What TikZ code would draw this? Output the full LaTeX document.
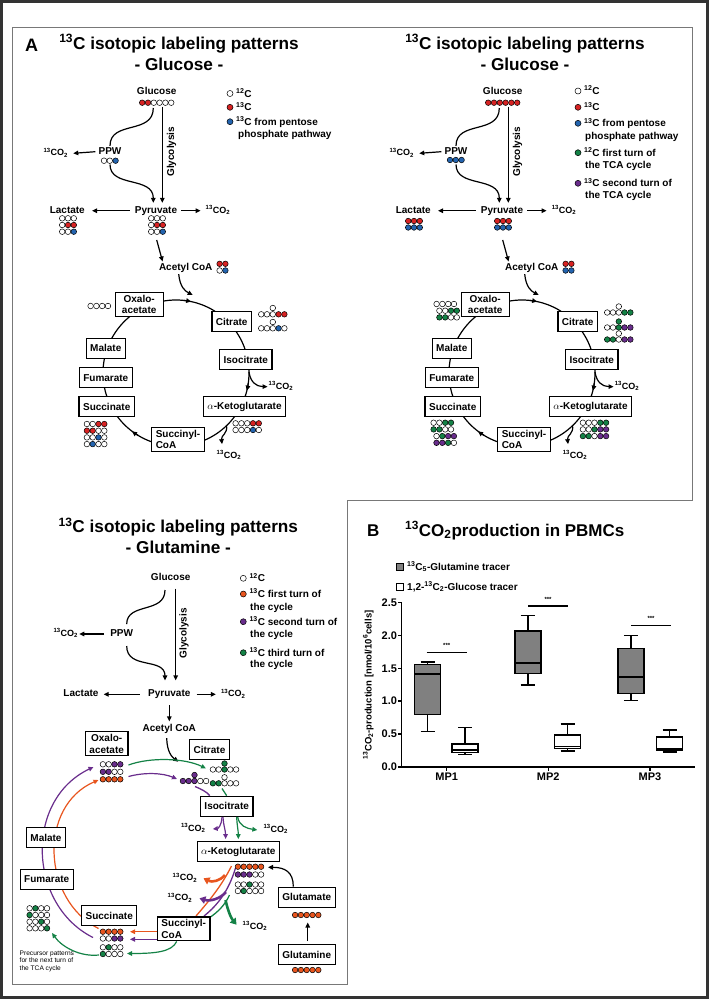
\documentclass[tikz,border=0pt]{standalone}
\usepackage{fontspec}
\setmainfont{Liberation Sans}
\usetikzlibrary{arrows.meta}

\definecolor{cw}{RGB}{255,255,255}
\definecolor{cr}{RGB}{215,35,35}
\definecolor{cb}{RGB}{35,100,175}
\definecolor{cg}{RGB}{20,130,70}
\definecolor{cp}{RGB}{105,45,140}
\definecolor{co}{RGB}{232,85,30}
\definecolor{framegray}{RGB}{120,120,120}
\definecolor{boxgray}{RGB}{128,128,128}

\newcommand\cotwo{\textsuperscript{13}CO\textsubscript{2}}
\newcommand\crow[3]{\foreach \dotcol [count=\dotnum from 0] in {#3}
  \draw[carbon,fill=\dotcol] ({#1+5.8*\dotnum},{#2}) circle[radius=2.8];}
\newcommand\legitem[5]{\draw[carbon,fill=#4] (#2,#3) circle[radius=3];
  \node[leg] (#1) at ({#2+6},{#3+3.6}) {#5};}

\begin{document}
\begin{tikzpicture}[x=1pt,y=-1pt,
  lbl/.style={font=\fontsize{10}{12}\selectfont\bfseries,inner sep=1pt,text height=7.3pt,text depth=2pt},
  co2/.style={lbl,font=\fontsize{9}{11}\selectfont\bfseries},
  leg/.style={font=\fontsize{10}{12}\selectfont\bfseries,inner sep=0pt,anchor=base west},
  met/.style={draw,line width=1.3pt,fill=white,align=center,inner xsep=4pt,inner ysep=2.5pt,minimum height=20pt,font=\fontsize{10}{11.5}\selectfont\bfseries},
  ttl/.style={font=\fontsize{17.2}{20}\selectfont\bfseries,inner sep=0pt,anchor=base},
  carbon/.style={draw=black,line width=0.5pt},
  arr/.style={-{Triangle[length=5pt,width=4.5pt]},line width=1.2pt},
  thk/.style={-{Triangle[length=6pt,width=7.5pt]},line width=2.6pt},
  bxl/.style={line width=1.6pt}]
\useasboundingbox (0,0) rectangle (709,999);

% frames
\draw[line width=2.2pt,black!80] (1.5,1.5) rectangle (707.5,997.5);
\draw[line width=0.8pt,framegray] (12,27) -- (692,27) -- (692,500) -- (347,500) -- (347,984) -- (12,984) -- cycle;
\node[font=\fontsize{18}{20}\selectfont\bfseries,anchor=base] (alab) at (31.7,51.5) {A};

% glucose panels
\foreach \sx in {0,346}{
\begin{scope}[xshift=\sx]
  \node[ttl] (ttl1) at (179,49) {\textsuperscript{13}C isotopic labeling patterns};
  \node[ttl] (ttl2) at (179,70) {- Glucose -};
  \node[lbl] (glc) at (156.7,92.3) {Glucose};
  \node[lbl] (ppw) at (110,151.7) {PPW};
  \node[co2] (co2a) at (55.8,153.3) {\cotwo};
  \node[lbl,rotate=90] (gly) at (171.5,151.7) {Glycolysis};
  \node[lbl] (pyr) at (156,210.7) {Pyruvate};
  \node[lbl] (lac) at (67.3,210.7) {Lactate};
  \node[co2] (co2b) at (218,210.7) {\cotwo};
  \node[lbl] (acoa) at (185.7,268.3) {Acetyl CoA};
  \node[co2] (co2c) at (281,386.7) {\cotwo};
  \node[co2] (co2d) at (229,456) {\cotwo};

  \coordinate (ppwin) at (153.3,108);
  \coordinate (glyin) at (162.3,106.5);
  \coordinate (ppwout) at (110,164.5);
  \coordinate (pyrout) at (156.7,240);
  \draw[line width=1.2pt] (ppwin) .. controls (153.3,135) and (110,120) .. (ppw.north);
  \draw[arr,shorten >=2pt] (ppwout) .. controls (110,188) and (153.3,176) .. (ppwin |- pyr.north);
  \draw[arr,shorten >=2pt] (glyin) -- (glyin |- pyr.north);
  \draw[arr] ([xshift=-2pt]ppw.west) -- ([xshift=4pt]co2a.east);
  \draw[arr] ([xshift=-4pt]pyr.west) -- ([xshift=6pt]lac.east);
  \draw[arr] ([xshift=3pt]pyr.east) -- ([xshift=-4pt]co2b.west);
  \draw[arr,shorten >=1pt] (pyrout) -- ([xshift=5pt]acoa.north west);

  \coordinate (cyc) at (176,373);
  \coordinate (cycin) at (192.7,295);
  \coordinate (icitout) at (249,372);
  \coordinate (akgout) at (226.5,425);
  \draw[line width=1.2pt] (cyc) circle[radius=73];
  \foreach \a in {-84,121,8}
    \draw[arr] (cyc) ++(\a:73) arc[start angle=\a,end angle=\a+6,radius=73];
  \draw[arr] ([xshift=-7pt]acoa.south) .. controls (180,287) and (185,291) .. (cycin);
  \draw[arr] (icitout) .. controls (250.5,382) and (256,386.5) .. (co2c.west);
  \draw[arr] (akgout) .. controls (228,434) and (221,435) .. ([xshift=6.5pt,yshift=6pt]co2d.north west);

  \node[met,minimum width=48pt] (oaa) at (139.2,304.5) {Oxalo-\\acetate};
  \node[met] (cit) at (231.7,321.7) {Citrate};
  \node[met] (icit) at (245.8,359.7) {Isocitrate};
  \node[met] (akg) at (244.5,406.7) {$\alpha$-Ketoglutarate};
  \node[met,align=left] (scoa) at (178,439.3) {Succinyl-\\CoA};
  \node[met] (suc) at (106.7,406.7) {Succinate};
  \node[met] (fum) at (105.8,377.8) {Fumarate};
  \node[met] (mal) at (105.8,348.3) {Malate};
\end{scope}}

% left glucose panel: patterns and key
\crow{142.2}{102.7}{cr,cr,cw,cw,cw,cw}
\crow{104}{160.7}{cw,cw,cb}
\crow{62.2}{218.3}{cw,cw,cw} \crow{62.2}{225}{cw,cr,cr} \crow{62.2}{231.7}{cw,cw,cb}
\crow{151.2}{218.3}{cw,cw,cw} \crow{151.2}{225}{cw,cr,cr} \crow{151.2}{231.7}{cw,cw,cb}
\crow{219.6}{263.8}{cr,cr} \crow{219.6}{270.5}{cw,cb}
\crow{90.6}{306}{cw,cw,cw,cw}
\crow{272.8}{308}{cw} \crow{261.2}{314.3}{cw,cw,cw,cr,cr}
\crow{272.8}{322}{cw} \crow{261.2}{328.3}{cw,cw,cw,cb,cw}
\crow{235.6}{423.3}{cw,cw,cw,cr,cr} \crow{235.6}{430}{cw,cw,cw,cb,cw}
\crow{86.9}{424}{cw,cw,cr,cr} \crow{86.9}{430.7}{cr,cr,cw,cw}
\crow{86.9}{437.4}{cw,cw,cb,cw} \crow{86.9}{444.1}{cw,cb,cw,cw}
\legitem{k1}{230}{93.5}{cw}{\textsuperscript{12}C}
\legitem{k2}{230}{107.3}{cr}{\textsuperscript{13}C}
\legitem{k3}{230}{121.7}{cb}{\textsuperscript{13}C from pentose}
\node[leg] (k3b) at (238,137.6) {phosphate pathway};

% right glucose panel: patterns and key
\begin{scope}[xshift=346]
\crow{142.2}{102.7}{cr,cr,cr,cr,cr,cr}
\crow{104}{160}{cb,cb,cb}
\crow{62.2}{221}{cr,cr,cr} \crow{62.2}{227.5}{cb,cb,cb}
\crow{151.2}{221}{cr,cr,cr} \crow{151.2}{227.5}{cb,cb,cb}
\crow{219.6}{263.8}{cr,cr} \crow{219.6}{270.5}{cb,cb}
\crow{90.6}{304}{cw,cw,cw,cw} \crow{93.4}{310.7}{cw,cw,cg,cg} \crow{93.4}{317.4}{cg,cg,cw,cw}
\crow{272.8}{306.5}{cw} \crow{261.2}{312.5}{cw,cw,cw,cg,cg}
\crow{272.8}{321.5}{cg} \crow{261.2}{327.5}{cw,cw,cg,cp,cp}
\crow{272.8}{333.5}{cw} \crow{261.2}{339.5}{cg,cg,cw,cp,cp}
\crow{236.9}{422.7}{cw,cw,cw,cg,cg} \crow{236.9}{429.4}{cw,cw,cg,cp,cp} \crow{236.9}{436.1}{cg,cg,cw,cp,cp}
\crow{87.6}{422.7}{cw,cw,cg,cg} \crow{87.6}{429.4}{cg,cg,cw,cw}
\crow{90.5}{436.1}{cw,cg,cp,cp} \crow{90.5}{442.8}{cp,cp,cg,cw}
\legitem{r1}{232}{91}{cw}{\textsuperscript{12}C}
\legitem{r2}{232}{107.3}{cr}{\textsuperscript{13}C}
\legitem{r3}{232}{123.3}{cb}{\textsuperscript{13}C from pentose}
\node[leg] (r3b) at (239,139.6) {phosphate pathway};
\legitem{r4}{232}{152.7}{cg}{\textsuperscript{12}C first turn of}
\node[leg] (r4b) at (239,168.6) {the TCA cycle};
\legitem{r5}{232}{183.3}{cp}{\textsuperscript{13}C second turn of}
\node[leg] (r5b) at (239,198.6) {the TCA cycle};
\end{scope}

% glutamine panel
\node[ttl] (gttl1) at (178.3,532.7) {\textsuperscript{13}C isotopic labeling patterns};
\node[ttl] (gttl2) at (178.3,553.3) {- Glutamine -};
\node[lbl] (gglc) at (170.7,578.3) {Glucose};
\node[lbl] (gppw) at (121.7,634) {PPW};
\node[co2] (gco2a) at (65.8,634) {\cotwo};
\node[lbl,rotate=90] (ggly) at (184,633.3) {Glycolysis};
\node[lbl] (gpyr) at (169.3,694.3) {Pyruvate};
\node[lbl] (glac) at (81,694.3) {Lactate};
\node[co2] (gco2b) at (233.3,694.3) {\cotwo};
\node[lbl] (gacoa) at (169.3,729.3) {Acetyl CoA};
\node[co2] (gco2c) at (193.3,829) {\cotwo};
\node[co2] (gco2d) at (275.8,830) {\cotwo};
\node[co2] (gco2e) at (185,878.3) {\cotwo};
\node[co2] (gco2f) at (180,898.3) {\cotwo};
\node[co2] (gco2g) at (255,926.7) {\cotwo};
\legitem{gk1}{243.3}{578.3}{cw}{\textsuperscript{12}C}
\legitem{gk2}{243.3}{594}{co}{\textsuperscript{13}C first turn of}
\node[leg] (gk2b) at (250,610.3) {the cycle};
\legitem{gk3}{243.3}{621.7}{cp}{\textsuperscript{13}C second turn of}
\node[leg] (gk3b) at (250,637.9) {the cycle};
\legitem{gk4}{243.3}{652.7}{cg}{\textsuperscript{13}C third turn of}
\node[leg] (gk4b) at (250,667.9) {the cycle};

\coordinate (gglyin) at (175.7,588.5);
\coordinate (gppwin) at (165,590);
\coordinate (gppwout) at (126.7,646);
\draw[arr,shorten >=8pt] (gglyin) -- (gglyin |- gpyr.north);
\draw[line width=1.2pt] (gppwin) .. controls (165,614) and (126.7,602) .. ([xshift=5pt,yshift=4pt]gppw.north);
\draw[arr,shorten >=8pt] (gppwout) .. controls (126.7,670) and (165,657) .. (gppwin |- gpyr.north);
\draw[arr] ([xshift=-5pt]gppw.west) -- (gco2a.east);
\draw[arr] ([xshift=-7pt]gpyr.west) -- ([xshift=4pt]glac.east);
\draw[arr] ([xshift=5pt]gpyr.east) -- ([xshift=-4pt]gco2b.west);
\draw[arr,shorten >=2pt] ([yshift=-5pt]gpyr.south) -- (gacoa.north);

% lines running behind the boxes
\draw[cp,arr] (93,937.5) .. controls (28,905) and (24,800) .. (93.5,767);
\draw[co,arr] (98.5,928.5) .. controls (42,900) and (38,806) .. (98.5,780);
\draw[co,line width=1.3pt] (231.5,866) .. controls (222,885) and (210,900) .. (196,916);
\draw[cp,line width=1.3pt] (235.5,868) .. controls (229,890) and (218,905) .. (204,916);
\draw[cg,line width=1.3pt] (229.5,895) .. controls (225,905) and (218,912) .. (209,918);

\node[met] (goaa) at (106.7,743.7) {Oxalo-\\acetate};
\node[met] (gcit) at (209.5,749.7) {Citrate};
\node[met] (gicit) at (226.7,806.3) {Isocitrate};
\node[met] (gakg) at (238.3,851.7) {$\alpha$-Ketoglutarate};
\node[met,align=left] (gscoa) at (183.7,928.8) {Succinyl-\\CoA};
\node[met] (gsuc) at (109.2,915.8) {Succinate};
\node[met] (gfum) at (46.7,879.2) {Fumarate};
\node[met] (gmal) at (46,837.8) {Malate};
\node[met] (gglu) at (306.7,897.2) {Glutamate};
\node[met] (ggln) at (306.7,954.5) {Glutamine};

\coordinate (gcitin) at (178.3,761.7);
\coordinate (oaag) at (128.5,765);
\coordinate (oaap) at (128.5,776.5);
\coordinate (citg) at (206,768.5);
\coordinate (citp) at (177,779);
\coordinate (citpo) at (195,786.5);
\coordinate (citgo) at (222,788.5);
\coordinate (sucO) at (130,931.7);
\coordinate (sucP) at (130,939.3);
\coordinate (sucG) at (127,953.5);
\coordinate (sucL) at (99,955);
\coordinate (prec) at (52,933);
\coordinate (glud) at (307.7,922.5);
\coordinate (akgd) at (268,867.3);
\draw[arr] ([xshift=-2.6pt,yshift=-3pt]gacoa.south) .. controls (167,752) and (172,757) .. (gcitin);
\draw[cg,arr] (oaag) .. controls (150,757) and (185,758) .. (citg);
\draw[cp,arr] (oaap) .. controls (145,772) and (163,773) .. (citp);
\draw[cp,line width=1.3pt] (citpo) .. controls (201,789) and (207,792) .. ([xshift=10pt]gicit.north west);
\draw[cg,line width=1.3pt] (citgo) -- (gicit.north);
\draw[cp,arr,shorten >=2pt] ([xshift=-3.7pt]gicit.south) .. controls (223.5,826) and (225.5,830) .. ([xshift=-12.6pt]gakg.north);
\draw[cp,arr] ([xshift=-4.7pt]gicit.south) .. controls (221.5,826) and (218,828.5) .. ([xshift=6pt]gco2c.east);
\draw[cg,arr,shorten >=2pt] ([xshift=10pt]gicit.south) .. controls (237,826) and (238.3,830) .. (gakg.north);
\draw[cg,arr] ([xshift=11pt]gicit.south) .. controls (239,826) and (247,828.5) .. ([xshift=-5pt]gco2d.west);
\draw[co,thk] (225,875) .. controls (220,881) and (212,882.5) .. ([xshift=5pt]gco2e.east);
\draw[cp,thk] (226,892) .. controls (220,899) and (210,901.5) .. ([xshift=6pt]gco2f.east);
\draw[cg,thk] (225.5,900) .. controls (228,911) and (231,918) .. ([xshift=-5pt,yshift=2pt]gco2g.west);
\draw[co,arr] ([yshift=-2.9pt]gscoa.west) -- (sucO);
\draw[cp,arr] ([yshift=-10.5pt]gscoa.west) -- (sucP);
\draw[cg,arr] ([xshift=-7pt]gscoa.south) .. controls (172,952) and (155,953.5) .. (sucG);
\draw[cg,arr] (sucL) .. controls (80,957) and (62,947) .. (prec);
\draw[arr] ([xshift=1pt,yshift=2.8pt]ggln.north) -- (glud);
\draw[arr] ([xshift=-13.4pt]gglu.north) .. controls (293.3,872) and (285,867.3) .. (akgd);

\crow{102.9}{764.3}{cw,cw,cp,cp} \crow{102.9}{771.8}{cp,cp,cw,cw} \crow{102.9}{779.3}{co,co,co,co}
\crow{224.5}{763.5}{cg} \crow{212.9}{769.5}{cw,cw,cg,cw,cw}
\crow{224.5}{777.3}{cw} \crow{212.9}{783.3}{cg,cg,cw,cw,cw}
\crow{194.5}{775}{cp} \crow{182.9}{781}{cp,cp,cp,cw,cw}
\crow{237.9}{866.7}{co,co,co,co,co} \crow{237.9}{874.5}{cp,cp,cp,cw,cw}
\crow{237.9}{884.5}{cw,cw,cg,cw,cw} \crow{237.9}{891}{cw,cg,cw,cw,cw}
\crow{102.9}{931.7}{co,co,co,co} \crow{102.9}{938.5}{cw,cw,cp,cp}
\crow{102.9}{947.3}{cw,cg,cw,cw} \crow{102.9}{954}{cg,cw,cw,cw}
\crow{29.6}{908.3}{cw,cg,cw,cw} \crow{29.6}{915}{cg,cw,cw,cw}
\crow{29.6}{921.7}{cw,cw,cg,cw} \crow{29.6}{928.3}{cw,cw,cw,cg}
\crow{295.1}{915}{co,co,co,co,co}
\crow{295.1}{970}{co,co,co,co,co}
\node[anchor=north west,align=left,font=\fontsize{6.6}{7.7}\selectfont,inner sep=0pt] (prectxt) at (19.5,950.5) {Precursor patterns\\for the next turn of\\the TCA cycle};

% panel B
\node[font=\fontsize{17}{20}\selectfont\bfseries,anchor=base] (blab) at (373.3,536.1) {B};
\node[font=\fontsize{17}{20}\selectfont\bfseries,anchor=base west,inner sep=0pt] (btitle) at (405,536.1) {\textsuperscript{13}CO\textsubscript{2}production in PBMCs};
\draw[line width=1pt,fill=boxgray] (396.5,563.2) rectangle (403.5,570.2);
\node[leg] (bk1) at (407,570.3) {\textsuperscript{13}C\textsubscript{5}-Glutamine tracer};
\draw[line width=1pt,fill=white] (396.5,583.2) rectangle (403.5,590.2);
\node[leg] (bk2) at (407,590.3) {1,2-\textsuperscript{13}C\textsubscript{2}-Glucose tracer};
\node[rotate=90,font=\fontsize{9.5}{11}\selectfont\bfseries] (ylab) at (368.3,685) {\textsuperscript{13}CO\textsubscript{2}-production [nmol/10\textsuperscript{6}cells]};

\coordinate (orig) at (401.7,767);
\draw[line width=1.5pt] (401.7,602.5) -- (orig) -- (695,767);
\foreach \v/\t [count=\i] in {0/0.0,0.5/0.5,1/1.0,1.5/1.5,2/2.0,2.5/2.5}
  \draw[line width=1.5pt] (401.7,{767-65.8*\v}) -- ++(-3.5,0)
    node[left,inner sep=0.5pt,font=\fontsize{11}{13}\selectfont\bfseries] (yt\i) {\t};
\foreach \x/\t in {446.7/MP1,548.3/MP2,650/MP3}
  \draw[line width=1.5pt] (\x,767) -- ++(0,3.5)
    node[below,inner sep=1.5pt,font=\fontsize{11}{13}\selectfont\bfseries] (\t) {\t};

\foreach \x/\f/\lo/\qa/\md/\qb/\hi in {
  427.5/boxgray/0.54/0.80/1.41/1.56/1.60,
  465/white/0.19/0.22/0.26/0.35/0.60,
  527.7/boxgray/1.25/1.42/1.58/2.07/2.30,
  567.5/white/0.24/0.28/0.31/0.49/0.65,
  630.8/boxgray/1.01/1.12/1.37/1.80/2.00,
  669.5/white/0.23/0.25/0.27/0.46/0.56}{
  \draw[bxl] ({\x-7},{767-65.8*\lo}) -- ({\x+7},{767-65.8*\lo})
             (\x,{767-65.8*\lo}) -- (\x,{767-65.8*\hi})
             ({\x-7},{767-65.8*\hi}) -- ({\x+7},{767-65.8*\hi});
  \draw[bxl,fill=\f] ({\x-13},{767-65.8*\qa}) rectangle ({\x+13},{767-65.8*\qb});
  \draw[bxl] ({\x-13},{767-65.8*\md}) -- ({\x+13},{767-65.8*\md});
}
\foreach \a/\b/\y [count=\i] in {426.7/466.7/652.3,528.3/567.7/606,631/671/625.3}
  \draw[line width=1.3pt] (\a,\y) -- (\b,\y)
    node[midway,above=0.5pt,font=\fontsize{6}{7}\selectfont\bfseries] (sig\i) {***};
\end{tikzpicture}
\end{document}
